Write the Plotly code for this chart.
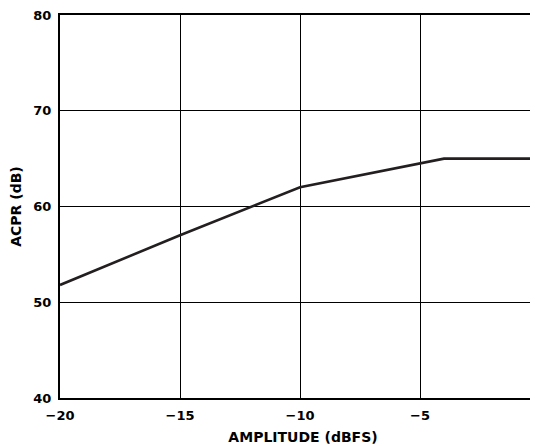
import plotly.graph_objects as go

# ── data ──────────────────────────────────────────────────────────────────────
amplitude_dbfs = [-20, -15, -10, -4, 0]
acpr_db = [51.8, 57, 62, 65, 65]

x_ticks = [-20, -15, -10, -5, 0]
y_ticks = [40, 50, 60, 70, 80]

FONT = "DejaVu Sans, Liberation Sans, Arial, sans-serif"
INK = "#231f20"

fig = go.Figure(go.Scatter(
    x=amplitude_dbfs, y=acpr_db,
    mode="lines",
    line=dict(color=INK, width=2.6),
    hoverinfo="skip",
))

# page body adds an 8px offset; the plot runs slightly past the right edge
# of the window, as in the (cropped) reference
fig.update_layout(
    width=538, height=446,
    margin=dict(l=52, r=0, t=7, b=56),
    paper_bgcolor="white", plot_bgcolor="white",
    showlegend=False,
    font=dict(family=FONT, color="black"),
    xaxis=dict(
        range=[-20, 0.25],
        tickvals=x_ticks, ticks="", ticklabelstandoff=4,
        ticklabeloverflow="allow",
        showgrid=True, gridcolor="black", gridwidth=1,
        showline=True, linecolor="black", linewidth=2, mirror=True,
        zeroline=False, automargin=False,
        tickfont=dict(family=FONT, size=13, weight="bold"),
        title=dict(text="AMPLITUDE (dBFS)", standoff=11,
                   font=dict(family=FONT, size=14, weight="bold")),
    ),
    yaxis=dict(
        range=[40, 80],
        tickvals=y_ticks, ticks="", ticklabelstandoff=4,
        ticklabeloverflow="allow",
        showgrid=True, gridcolor="black", gridwidth=1,
        showline=True, linecolor="black", linewidth=2,
        zeroline=False, automargin=False,
        tickfont=dict(family=FONT, size=13, weight="bold"),
        title=dict(text="ACPR (dB)", standoff=17,
                   font=dict(family=FONT, size=14, weight="bold")),
    ),
)

fig.write_html("out.html")
